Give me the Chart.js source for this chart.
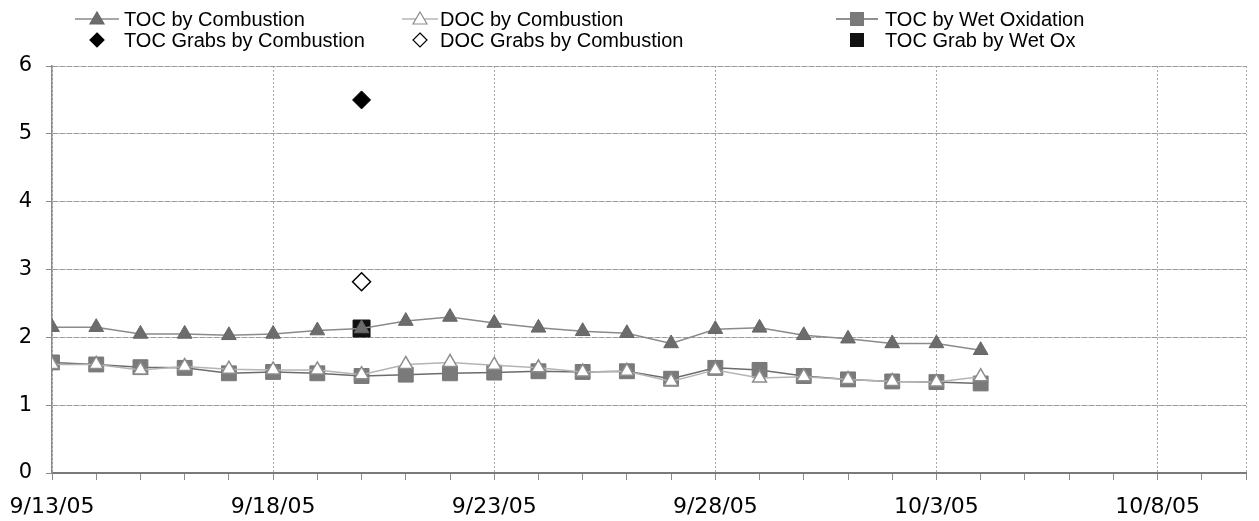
<!DOCTYPE html>
<html>
<head>
<meta charset="utf-8">
<script src="https://cdn.jsdelivr.net/npm/chart.js@4.4.1/dist/chart.umd.min.js"></script>
<style>
  html, body { margin: 0; padding: 0; background: #fff; }
  #wrap { position: relative; width: 1259px; height: 521px; }
  #legend { position: absolute; left: 0; top: 0; width: 1259px; height: 52px;
    font-family: "Liberation Sans", Arial, sans-serif; font-size: 20px; color: #000; }
  #legend .icon { position: absolute; display: block; }
  #legend .text { position: absolute; white-space: nowrap; line-height: 20px; }
</style>
</head>
<body>
<div id="wrap">
  <canvas id="toc-chart" width="1259" height="521"></canvas>
  <div id="legend"></div>
</div>
<script>
// Sampling days (daily composite samples)
const sampleDates = [
  "9/13/05", "9/14/05", "9/15/05", "9/16/05", "9/17/05", "9/18/05", "9/19/05",
  "9/20/05", "9/21/05", "9/22/05", "9/23/05", "9/24/05", "9/25/05", "9/26/05",
  "9/27/05", "9/28/05", "9/29/05", "9/30/05", "10/1/05", "10/2/05", "10/3/05", "10/4/05"
];

// Daily series, mg/L
const tocCombustion = [2.15, 2.15, 2.05, 2.05, 2.03, 2.05, 2.1, 2.13, 2.24, 2.3, 2.21,
  2.14, 2.09, 2.06, 1.91, 2.12, 2.14, 2.03, 1.98, 1.91, 1.91, 1.81];
const docCombustion = [1.6, 1.6, 1.52, 1.57, 1.53, 1.52, 1.52, 1.45, 1.6, 1.63, 1.59,
  1.55, 1.49, 1.5, 1.35, 1.52, 1.4, 1.42, 1.38, 1.35, 1.34, 1.42];
const tocWetOx = [1.63, 1.6, 1.56, 1.55, 1.47, 1.49, 1.47, 1.43, 1.45, 1.47, 1.48,
  1.5, 1.49, 1.5, 1.39, 1.55, 1.52, 1.43, 1.38, 1.35, 1.34, 1.32];

// Grab samples
const grabDates = ["9/20/05"];
const tocGrabCombustion = [5.5];
const docGrabCombustion = [2.82];
const tocGrabWetOx = [2.13];

// Axis
const axisStart = "9/13/05";
const axisEnd = "10/10/05";
const xTickLabels = ["9/13/05", "9/18/05", "9/23/05", "9/28/05", "10/3/05", "10/8/05"];
const yTicks = [0, 1, 2, 3, 4, 5, 6];

const TICK_FONT = "'DejaVu Sans', sans-serif";

function parseDate(s) {
  const [m, d, y] = s.split("/").map(Number);
  return new Date(2000 + y, m - 1, d);
}
const t0 = parseDate(axisStart);
function dayOf(s) {
  return Math.round((parseDate(s) - t0) / 86400000);
}
function points(dates, values) {
  return dates.map((d, i) => ({ x: dayOf(d), y: values[i] }));
}

const datasets = [
  {
    label: "TOC by Combustion",
    data: points(sampleDates, tocCombustion),
    borderColor: "#8a8a8a", borderWidth: 1.5,
    pointStyle: "triangle", pointRadius: 8.5,
    pointBackgroundColor: "#6c6c6c", pointBorderColor: "#666", pointBorderWidth: 1
  },
  {
    label: "DOC by Combustion",
    data: points(sampleDates, docCombustion),
    borderColor: "#b4b4b4", borderWidth: 1.5,
    pointStyle: "triangle", pointRadius: 8,
    pointBackgroundColor: "#ffffff", pointBorderColor: "#8c8c8c", pointBorderWidth: 1.5
  },
  {
    label: "TOC by Wet Oxidation",
    data: points(sampleDates, tocWetOx),
    borderColor: "#6c6c6c", borderWidth: 1.5,
    pointStyle: "rect", pointRadius: 10.5,
    pointBackgroundColor: "#7a7a7a", pointBorderColor: "#777", pointBorderWidth: 1
  },
  {
    label: "TOC Grabs by Combustion",
    data: points(grabDates, tocGrabCombustion),
    showLine: false,
    pointStyle: "rectRot", pointRadius: 9,
    pointBackgroundColor: "#000", pointBorderColor: "#000", pointBorderWidth: 1
  },
  {
    label: "DOC Grabs by Combustion",
    data: points(grabDates, docGrabCombustion),
    showLine: false,
    pointStyle: "rectRot", pointRadius: 9,
    pointBackgroundColor: "#fff", pointBorderColor: "#000", pointBorderWidth: 1.5
  },
  {
    label: "TOC Grab by Wet Ox",
    data: points(grabDates, tocGrabWetOx),
    showLine: false,
    pointStyle: "rect", pointRadius: 12,
    pointBackgroundColor: "#111", pointBorderColor: "#111", pointBorderWidth: 1
  }
];

const xMax = dayOf(axisEnd);

new Chart("toc-chart", {
  type: "line",
  data: { datasets: datasets },
  options: {
    responsive: false,
    animation: false,
    devicePixelRatio: 1,
    layout: { padding: { top: 66, right: 0, left: 0, bottom: 0 } },
    plugins: { legend: { display: false }, tooltip: { enabled: false } },
    scales: {
      x: {
        type: "linear", min: 0, max: xMax,
        afterFit: s => { s.height = 48; },
        ticks: {
          stepSize: 1, autoSkip: false, maxRotation: 0, padding: 3,
          color: "#000", font: { family: TICK_FONT, size: 22 },
          callback: v => (v % 5 === 0 ? xTickLabels[v / 5] : "")
        },
        grid: {
          color: c => (c.tick && (c.tick.value % 5 === 0 || c.tick.value === xMax)) ? "#a8a8a8" : "rgba(0,0,0,0)",
          // long tick slot pushes the labels down; only the first 6px are inked
          tickColor: "#8a8a8a", tickLength: 18, tickBorderDash: [6, 40]
        },
        border: { color: "#7a7a7a", width: 2, dash: [2, 2] }
      },
      y: {
        min: 0, max: 6,
        afterFit: s => { s.width = 52; },
        afterBuildTicks: s => { s.ticks = yTicks.map(v => ({ value: v })); },
        ticks: { color: "#000", font: { family: TICK_FONT, size: 21 }, padding: 14 },
        grid: { color: "#9a9a9a", tickColor: "#8a8a8a", tickLength: 6 },
        border: { color: "#8a8a8a", width: 1.5, dash: [6, 1] }
      }
    }
  }
});

// Two-row legend above the plot: icon centre x, icon width, text left x, row centre y
const legendItems = [
  { cx: 97, w: 44, tx: 124, cy: 19, text: datasets[0].label, line: "#8a8a8a", mark: "tri", fill: "#6c6c6c", stroke: "#666" },
  { cx: 420, w: 36, tx: 440, cy: 19, text: datasets[1].label, line: "#b4b4b4", mark: "tri", fill: "#fff", stroke: "#8c8c8c" },
  { cx: 857, w: 42, tx: 885, cy: 19, text: datasets[2].label, line: "#6c6c6c", mark: "sq", fill: "#7a7a7a", stroke: "#777" },
  { cx: 97, w: 44, tx: 124, cy: 40, text: datasets[3].label, mark: "dia", fill: "#000", stroke: "#000" },
  { cx: 420, w: 36, tx: 440, cy: 40, text: datasets[4].label, mark: "dia", fill: "#fff", stroke: "#000" },
  { cx: 857, w: 42, tx: 885, cy: 40, text: datasets[5].label, mark: "sq", fill: "#111", stroke: "#111" }
];

function markSvg(it) {
  const w = it.w, c = w / 2;
  let s = `<svg width="${w}" height="20" viewBox="0 0 ${w} 20">`;
  if (it.line) s += `<line x1="0" y1="10" x2="${w}" y2="10" stroke="${it.line}" stroke-width="1.5"/>`;
  if (it.mark === "tri") s += `<polygon points="${c},3 ${c + 7},15 ${c - 7},15" fill="${it.fill}" stroke="${it.stroke}" stroke-width="1.2"/>`;
  if (it.mark === "sq") s += `<rect x="${c - 6.5}" y="3.5" width="13" height="13" fill="${it.fill}" stroke="${it.stroke}"/>`;
  if (it.mark === "dia") s += `<polygon points="${c},3 ${c + 7},10 ${c},17 ${c - 7},10" fill="${it.fill}" stroke="${it.stroke}" stroke-width="1.2"/>`;
  return s + "</svg>";
}

const legend = document.getElementById("legend");
legendItems.forEach(it => {
  const icon = document.createElement("div");
  icon.className = "icon";
  icon.style.left = (it.cx - it.w / 2) + "px";
  icon.style.top = (it.cy - 10) + "px";
  icon.innerHTML = markSvg(it);
  legend.appendChild(icon);

  const label = document.createElement("span");
  label.className = "text";
  label.style.left = it.tx + "px";
  label.style.top = (it.cy - 10) + "px";
  label.textContent = it.text;
  legend.appendChild(label);
});
</script>
</body>
</html>
